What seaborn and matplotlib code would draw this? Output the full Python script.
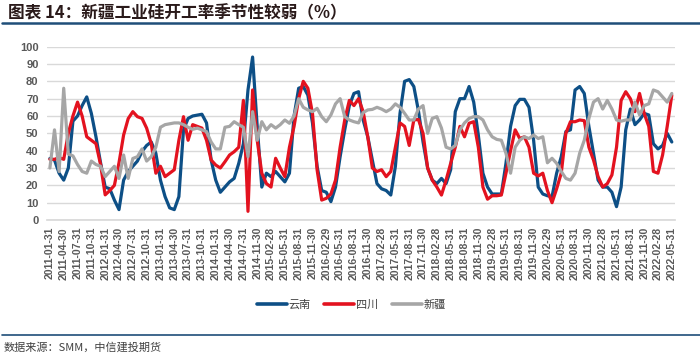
import matplotlib
matplotlib.use("Agg")
import matplotlib.pyplot as plt
from matplotlib.lines import Line2D
import pandas as pd
import seaborn as sns

# 月度开工率（%），2014-09 无数据
yunnan = [35.5, 34.6, 27, 23, 30, 57, 60, 66, 71, 61.5, 48, 33, 19, 18, 11.5, 6, 23, 28, 31, 34,
          39.5, 43, 45, 38.5, 23, 13.5, 7, 6, 13.5, 52, 58.6, 60, 60.5, 61, 56, 34.6, 23, 16, 19, 22,
          24, 32.7, 44, 75, 94, 54, 19, 27, 25, 28, 25, 22, 27, 60, 76, 77, 72, 56, 31, 17,
          16, 10.6, 19, 36.5, 52, 66, 73, 74, 57.7, 48, 34.6, 21, 18, 17, 14.4, 31, 61.5, 80, 81, 77,
          63, 45, 30, 23, 21, 24, 21, 29, 62.5, 70, 70, 77, 68, 49, 27, 19, 15, 15, 15, 32.7,
          54, 66, 69.6, 69.6, 65, 46, 19, 15, 14, 13.5, 27, 36.5, 51, 52, 75, 77, 73, 54, 38.5, 23,
          19, 19, 16, 7.7, 19, 52, 64, 55, 57.7, 61.5, 60.6, 44, 41, 43, 50, 45]
sichuan = [35, 35, 36, 35, 50, 60, 68, 60, 48, 46, 44, 32, 14.5, 17, 20, 33, 49, 58.5, 62.5, 59.6,
           58.6, 53, 44, 27, 31, 25, 27, 29, 46, 59.6, 46, 55, 54, 53, 46, 34.6, 31.7, 30, 33.6, 37.5,
           39.4, 42, 69, 5, 75, 46, 27, 21, 19, 35.6, 30, 25, 42, 54, 70, 80, 76, 61.5, 29, 11.5,
           12.5, 15, 23, 42, 57.7, 69, 66, 70, 62.5, 48, 30, 28, 29, 25, 28, 42, 56, 54, 43, 57.7,
           58, 50, 30, 23, 19, 14.4, 23, 32.7, 42, 54, 48, 55.8, 56.7, 42, 19, 12, 14, 14, 14.4, 27,
           40, 52, 47, 48, 42, 27, 25.4, 27, 17, 10, 18, 27, 50, 56.7, 56.7, 57.7, 57.3, 42, 34.6, 25,
           19, 21, 26, 42, 69, 74, 70, 62.5, 73, 61.5, 54, 28, 27, 37.5, 54, 72]
xinjiang = [30, 52, 28, 76, 38, 37, 32, 28, 27, 34, 32, 31, 25, 28, 31, 24, 37.5, 24, 35.5, 36.5,
            41, 34, 36.5, 42, 53.5, 55, 55.5, 56, 56, 55, 53.5, 52.3, 53, 52, 51, 45, 41, 41, 53.5, 54,
            56.7, 55, 53.5, 36.5, 62.5, 46, 56.7, 52, 55, 53, 55, 57.7, 55.8, 60, 70, 65, 63.5, 62.5, 64.4, 59.6,
            56.7, 60.6, 67, 70, 59.6, 57.7, 56.7, 56, 62, 63.5, 63.8, 65, 64, 62.5, 64, 67, 65, 61.5, 57.7, 57.7,
            64, 66, 50, 58.6, 59.6, 53, 42, 41, 43, 52, 56, 58.6, 59.6, 59.6, 57.7, 52, 48, 46.5, 46, 38.5,
            27, 42, 46, 48, 47, 49, 47, 48, 33, 35.6, 32.7, 28, 24, 23, 27, 38.5, 46, 58.6, 68, 70,
            64, 69, 64, 57.7, 57, 57.7, 57.7, 68, 60.6, 66, 67, 75, 74, 71, 68, 73]

months = pd.date_range("2011-01-31", "2022-05-31", freq="ME")
months = months[months != pd.Timestamp("2014-09-30")]
date_labels = [d.strftime("%Y-%m-%d") for d in months]

series_names = ["云南", "四川", "新疆"]
colors = ["#0d4f86", "#e3121f", "#a6a6a6"]

df = pd.DataFrame({
    "pos": list(range(len(date_labels))) * 3,
    "value": yunnan + sichuan + xinjiang,
    "region": [n for n, s in zip(series_names, [yunnan, sichuan, xinjiang]) for _ in s],
})

sns.set_theme(style="white")
plt.rcParams["font.family"] = ["Noto Sans CJK SC", "DejaVu Sans"]

fig = plt.figure(figsize=(7, 3.56), dpi=100)
ax = fig.add_axes([0.067, 0.382, 0.897, 0.487])

sns.lineplot(data=df, x="pos", y="value", hue="region", hue_order=series_names,
             palette=colors, linewidth=2.3, ax=ax, legend=False)

ax.set_ylim(0, 100)
ax.set_yticks(range(0, 101, 10))
ax.set_xlim(-0.65, len(date_labels) - 1 + 0.65)
tick_pos = list(range(0, len(date_labels), 3))
ax.set_xticks(tick_pos)
ax.set_xticklabels([date_labels[i] for i in tick_pos], rotation=90,
                   family="Liberation Sans", fontweight="bold", fontsize=7.6, color="#595959")
for lab in ax.get_yticklabels():
    lab.set_family("Liberation Sans")
    lab.set_fontweight("bold")
    lab.set_fontsize(8)
    lab.set_color("#595959")
ax.tick_params(axis="both", length=0)
ax.tick_params(axis="x", pad=5)
ax.tick_params(axis="y", pad=6)
ax.grid(axis="y", color="#d9d9d9", linewidth=1)
ax.set_axisbelow(True)
for side in ["top", "right", "left"]:
    ax.spines[side].set_visible(False)
ax.spines["bottom"].set_color("#d9d9d9")
ax.set_xlabel("")
ax.set_ylabel("")

handles = [Line2D([0], [0], color=c, linewidth=2.6) for c in colors]
fig.legend(handles, series_names, loc="center", bbox_to_anchor=(0.502, 0.143), ncol=3,
           frameon=False, handlelength=2.7, columnspacing=1.2, handletextpad=0.15,
           prop={"size": 8}, labelcolor="#404040")

# 标题与上下分隔线
fig.text(0.012, 0.962, "图表 14：新疆工业硅开工率季节性较弱（%）", fontsize=12, fontweight="bold",
         color="#2a1a1a", va="center", ha="left")
fig.add_artist(Line2D([0.003, 1], [0.936, 0.936], transform=fig.transFigure,
                      color="#1f4e79", linewidth=1.8))
fig.add_artist(Line2D([0.003, 1], [0.06, 0.06], transform=fig.transFigure,
                      color="#1f4e79", linewidth=1.2))
fig.text(0.005, 0.025, "数据来源：SMM，中信建投期货", fontsize=8, style="italic",
         color="#404040", va="center", ha="left")

fig.savefig("out.png", dpi=100)
